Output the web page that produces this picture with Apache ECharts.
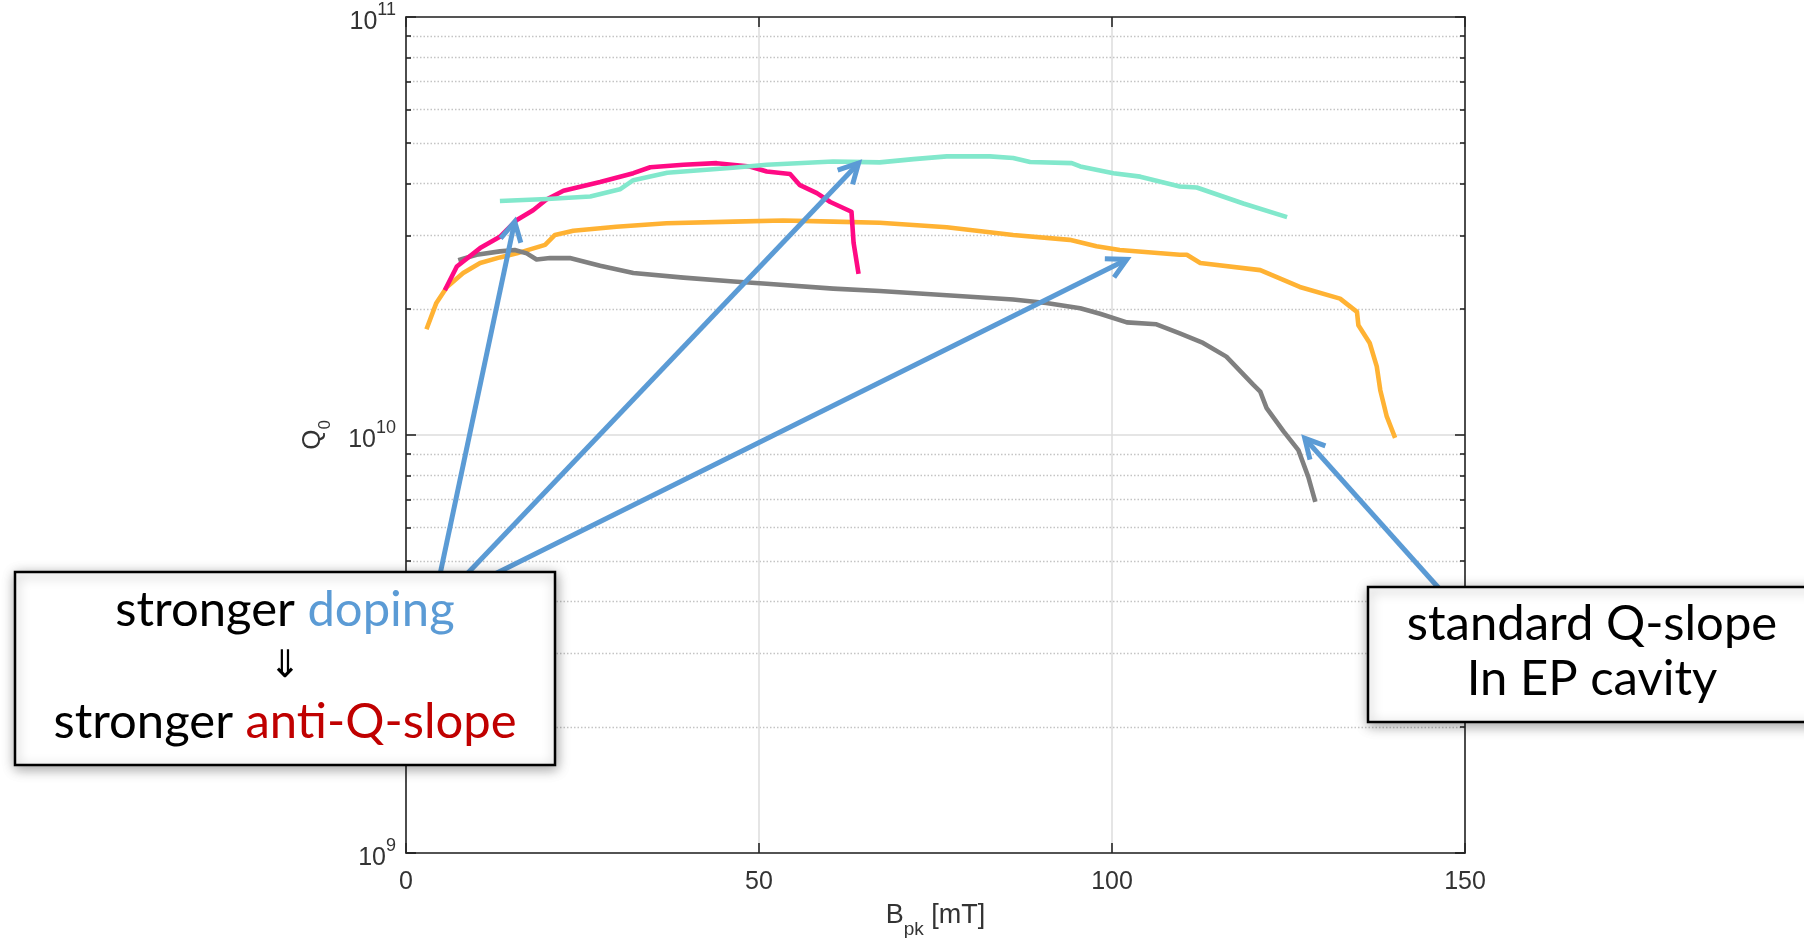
<!DOCTYPE html>
<html>
<head>
<meta charset="utf-8">
<script src="https://cdn.jsdelivr.net/npm/echarts@6/dist/echarts.min.js"></script>
<style>
  html, body { margin: 0; padding: 0; background: #ffffff; }
  #chart { width: 1804px; height: 938px; }
</style>
</head>
<body>
<div id="chart"></div>
<script>
// Q0 vs peak surface field, four cavity treatments
const bMagenta = [5.5, 7.2, 10.5, 13.3, 15.7, 18.0, 19.9, 22.3, 27.5, 32.2, 34.6, 39.3, 44.0, 48.7, 51.1, 54.4, 55.8, 58.2, 60.1, 63.1, 63.4, 64.1];
const qMagenta = [2.22e10, 2.53e10, 2.80e10, 2.98e10, 3.27e10, 3.45e10, 3.66e10, 3.84e10, 4.03e10, 4.23e10, 4.37e10, 4.43e10, 4.47e10, 4.39e10, 4.27e10, 4.21e10, 3.96e10, 3.79e10, 3.61e10, 3.42e10, 2.88e10, 2.43e10];

const bTeal = [13.3, 20.0, 26.1, 30.3, 32.2, 37.0, 46.3, 51.1, 60.5, 67.1, 71.9, 76.6, 82.7, 86.0, 88.4, 94.3, 95.5, 100.2, 104.0, 109.6, 112.0, 118.6, 124.8];
const qTeal = [3.63e10, 3.67e10, 3.72e10, 3.87e10, 4.07e10, 4.24e10, 4.36e10, 4.43e10, 4.51e10, 4.49e10, 4.57e10, 4.64e10, 4.64e10, 4.60e10, 4.50e10, 4.47e10, 4.39e10, 4.23e10, 4.15e10, 3.93e10, 3.91e10, 3.58e10, 3.32e10];

const bOrange = [2.9, 4.3, 5.8, 8.1, 10.5, 13.3, 15.7, 19.7, 21.1, 23.7, 29.8, 36.9, 46.4, 53.4, 60.5, 67.1, 76.6, 86.0, 94.0, 97.8, 101.1, 109.6, 110.6, 112.5, 121.0, 126.6, 132.3, 134.7, 134.9, 136.5, 137.5, 138.0, 138.9, 140.1];
const qOrange = [1.79e10, 2.07e10, 2.26e10, 2.44e10, 2.58e10, 2.66e10, 2.72e10, 2.85e10, 3.01e10, 3.08e10, 3.15e10, 3.21e10, 3.24e10, 3.26e10, 3.24e10, 3.22e10, 3.14e10, 3.01e10, 2.93e10, 2.83e10, 2.77e10, 2.70e10, 2.70e10, 2.58e10, 2.48e10, 2.26e10, 2.12e10, 1.97e10, 1.83e10, 1.66e10, 1.46e10, 1.28e10, 1.11e10, 0.984e10];

const bGray = [7.4, 10.0, 13.3, 15.4, 17.1, 18.5, 20.4, 23.2, 27.5, 32.2, 39.3, 46.4, 51.1, 60.5, 67.1, 76.6, 86.0, 90.7, 95.5, 98.3, 102.1, 106.3, 109.6, 112.9, 116.2, 120.0, 121.0, 121.9, 124.3, 126.4, 127.8, 128.8];
const qGray = [2.62e10, 2.70e10, 2.75e10, 2.77e10, 2.72e10, 2.63e10, 2.65e10, 2.65e10, 2.54e10, 2.44e10, 2.38e10, 2.33e10, 2.30e10, 2.24e10, 2.21e10, 2.16e10, 2.11e10, 2.07e10, 2.01e10, 1.95e10, 1.86e10, 1.84e10, 1.75e10, 1.66e10, 1.54e10, 1.32e10, 1.27e10, 1.16e10, 1.02e10, 0.92e10, 0.794e10, 0.692e10];

// annotation arrows: tail and head in data units [B, Q]
const arrowFrom = [[4.2, 4.14e9], [5.8, 4.14e9], [6.6, 4.14e9], [147.8, 4.03e9]];
const arrowTo   = [[15.4, 3.24e10], [64.1, 4.47e10], [102.1, 2.63e10], [127.3, 9.82e9]];

const xTicks = [0, 50, 100, 150];

const axisFont = 'Liberation Sans, Arial, Helvetica, sans-serif';
const boxFont = 'Lato, "Noto Sans", sans-serif';
const axisColor = '#262626';
const arrowColor = '#5b9bd5';

function pairs(xs, ys) { return xs.map((x, i) => [x, ys[i]]); }

const chart = echarts.init(document.getElementById('chart'), null, { renderer: 'canvas' });

const lineDefaults = (color, z) => ({
  type: 'line', showSymbol: false, symbol: 'none', z: z,
  lineStyle: { color: color, width: 4.6, join: 'round' },
  itemStyle: { color: color }, animation: false, silent: true
});

function yAxisBase(position, labels) {
  return {
    type: 'log', logBase: 10, min: 1e9, max: 1e11, position: position,
    axisLine: { show: true, onZero: false, lineStyle: { color: axisColor, width: 1.6 } },
    axisTick: { show: true, inside: true, length: 10, lineStyle: { color: axisColor, width: 1.6 } },
    minorTick: { show: true, splitNumber: 9, length: 5, lineStyle: { color: axisColor, width: 1.6 } },
    splitLine: { show: labels, lineStyle: { color: '#dcdcdc', width: 1.5 } },
    minorSplitLine: { show: labels, lineStyle: { color: '#c4c4c4', width: 1.4, type: [1.5, 2] } },
    axisLabel: labels ? {
      show: true, margin: 10,
      formatter: v => '{b|10}{s|' + Math.round(Math.log10(v)) + '}',
      rich: {
        b: { fontFamily: axisFont, fontSize: 25, color: '#333', padding: [11, 0, 0, 0] },
        s: { fontFamily: axisFont, fontSize: 18, color: '#333', verticalAlign: 'top', padding: [2, 0, 0, 0] }
      }
    } : { show: false },
    name: labels ? '{q|Q}{s|0}' : '',
    nameLocation: 'middle', nameRotate: 90, nameGap: 72,
    nameTextStyle: {
      rich: {
        q: { fontFamily: axisFont, fontSize: 26, color: '#333', padding: [0, 0, 8, 0] },
        s: { fontFamily: axisFont, fontSize: 17, color: '#333', verticalAlign: 'bottom' }
      }
    }
  };
}

function xAxisBase(position, labels) {
  return {
    type: 'value', min: xTicks[0], max: xTicks[xTicks.length - 1], interval: 50, position: position,
    axisLine: { show: true, onZero: false, lineStyle: { color: axisColor, width: 1.6 } },
    axisTick: { show: true, inside: true, length: 10, lineStyle: { color: axisColor, width: 1.6 } },
    splitLine: { show: labels, lineStyle: { color: '#dcdcdc', width: 1.5 } },
    axisLabel: labels ? { show: true, margin: 17, fontFamily: axisFont, fontSize: 25, color: '#333' } : { show: false },
    name: labels ? '{b|B}{s|pk}{b| [mT]}' : '',
    nameLocation: 'middle', nameGap: 49,
    nameTextStyle: {
      rich: {
        b: { fontFamily: axisFont, fontSize: 27, color: '#333', padding: [0, 0, 10, 0] },
        s: { fontFamily: axisFont, fontSize: 19, color: '#333', verticalAlign: 'bottom' }
      }
    }
  };
}

function renderArrow(params, api) {
  const p0 = api.coord([api.value(0), api.value(1)]);
  const p1 = api.coord([api.value(2), api.value(3)]);
  const dx = p1[0] - p0[0], dy = p1[1] - p0[1];
  const len = Math.sqrt(dx * dx + dy * dy);
  const ux = -dx / len, uy = -dy / len;
  const a = 28 * Math.PI / 180, L = 22;
  const w1 = [p1[0] + L * (ux * Math.cos(a) - uy * Math.sin(a)), p1[1] + L * (ux * Math.sin(a) + uy * Math.cos(a))];
  const w2 = [p1[0] + L * (ux * Math.cos(-a) - uy * Math.sin(-a)), p1[1] + L * (ux * Math.sin(-a) + uy * Math.cos(-a))];
  const style = { stroke: arrowColor, lineWidth: 5, fill: null, lineJoin: 'miter', lineCap: 'butt' };
  return {
    type: 'group',
    children: [
      { type: 'line', shape: { x1: p0[0], y1: p0[1], x2: p1[0], y2: p1[1] }, style: style },
      { type: 'polyline', shape: { points: [w1, p1, w2] }, style: style }
    ]
  };
}

const option = {
  backgroundColor: '#ffffff',
  animation: false,
  grid: { left: 406, right: 339, top: 17, bottom: 85, containLabel: false, outerBoundsMode: 'none' },
  xAxis: [xAxisBase('bottom', true), xAxisBase('top', false)],
  yAxis: [yAxisBase('left', true), yAxisBase('right', false)],
  series: [
    Object.assign(lineDefaults('#ffb233', 3), { name: 'orange', data: pairs(bOrange, qOrange) }),
    Object.assign(lineDefaults('#808080', 4), { name: 'gray', data: pairs(bGray, qGray) }),
    Object.assign(lineDefaults('#ff0a84', 5), { name: 'magenta', data: pairs(bMagenta, qMagenta) }),
    Object.assign(lineDefaults('#82e8cc', 6), { name: 'teal', data: pairs(bTeal, qTeal) }),
    {
      type: 'custom', name: 'arrows', z: 10, silent: true, clip: false,
      renderItem: renderArrow,
      encode: { x: [0, 2], y: [1, 3] },
      data: arrowFrom.map((f, i) => [f[0], f[1], arrowTo[i][0], arrowTo[i][1]])
    }
  ],
  graphic: [
    {
      type: 'rect', z: 100, shape: { x: 15, y: 572, width: 540, height: 193 },
      style: { fill: '#ffffff', stroke: '#000000', lineWidth: 2.5, shadowBlur: 12, shadowColor: 'rgba(0,0,0,0.35)', shadowOffsetX: 1, shadowOffsetY: 3 }
    },
    {
      type: 'text', z: 101, x: 285, y: 610,
      style: {
        text: '{k|stronger }{c|doping}', align: 'center', verticalAlign: 'middle',
        rich: {
          k: { fontFamily: boxFont, fontSize: 49, fill: '#000000' },
          c: { fontFamily: boxFont, fontSize: 49, fill: '#5b9bd5' }
        }
      }
    },
    {
      type: 'text', z: 101, x: 285, y: 667,
      style: { text: '\u21D3', align: 'center', verticalAlign: 'middle', fontFamily: 'DejaVu Sans', fontSize: 38, fill: '#000000' }
    },
    {
      type: 'text', z: 101, x: 285, y: 722,
      style: {
        text: '{k|stronger }{c|anti-Q-slope}', align: 'center', verticalAlign: 'middle',
        rich: {
          k: { fontFamily: boxFont, fontSize: 49, fill: '#000000' },
          c: { fontFamily: boxFont, fontSize: 49, fill: '#c00000' }
        }
      }
    },
    {
      type: 'rect', z: 100, shape: { x: 1368, y: 587, width: 470, height: 135 },
      style: { fill: '#ffffff', stroke: '#000000', lineWidth: 2.5, shadowBlur: 12, shadowColor: 'rgba(0,0,0,0.35)', shadowOffsetX: 1, shadowOffsetY: 3 }
    },
    {
      type: 'text', z: 101, x: 1592, y: 624,
      style: { text: 'standard Q-slope', align: 'center', verticalAlign: 'middle', fontFamily: boxFont, fontSize: 49, fill: '#000000' }
    },
    {
      type: 'text', z: 101, x: 1592, y: 679,
      style: { text: 'In EP cavity', align: 'center', verticalAlign: 'middle', fontFamily: boxFont, fontSize: 49, fill: '#000000' }
    }
  ]
};

chart.setOption(option);
</script>
</body>
</html>
